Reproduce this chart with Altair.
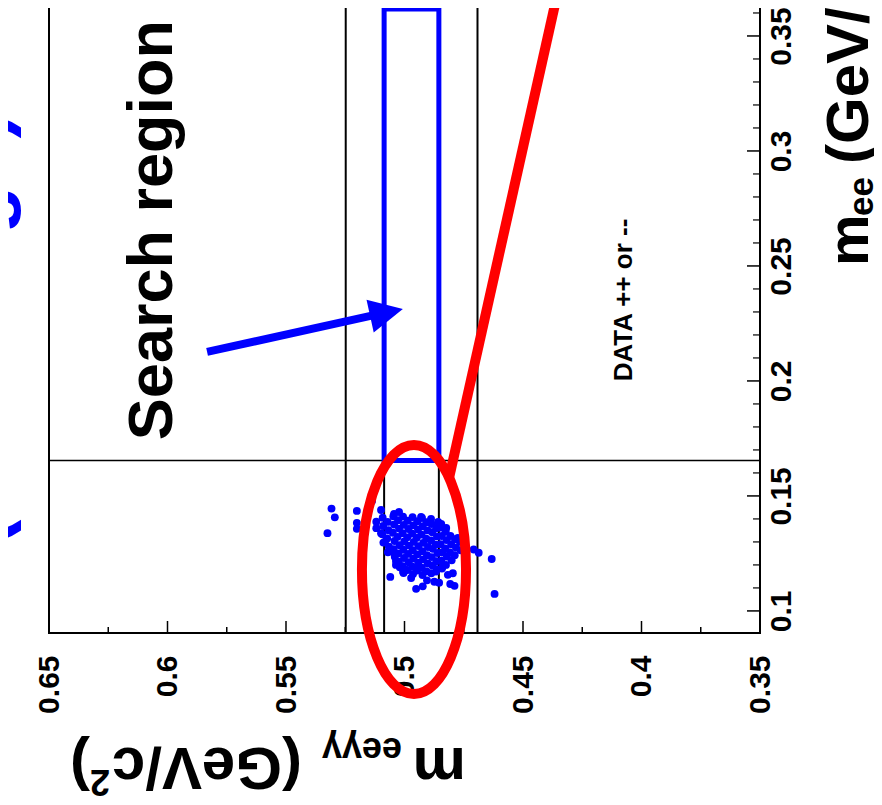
import altair as alt
import pandas as pd

# ---------------- data ----------------
# events: (m_eeyy, m_ee) in GeV/c^2
core_events = [
    (0.5092,0.1405),(0.5090,0.1369),(0.5094,0.1333),(0.5089,0.1297),
    (0.5071,0.1387),(0.5068,0.1351),(0.5073,0.1315),(0.5066,0.1279),(0.5070,0.1255),
    (0.5047,0.1412),(0.5044,0.1376),(0.5049,0.1340),(0.5042,0.1304),(0.5046,0.1268),(0.5041,0.1236),
    (0.5027,0.1394),(0.5023,0.1358),(0.5029,0.1322),(0.5021,0.1286),(0.5026,0.1250),(0.5024,0.1214),(0.5020,0.1190),
    (0.5006,0.1410),(0.5003,0.1374),(0.5008,0.1338),(0.5001,0.1302),(0.5005,0.1266),(0.5002,0.1230),(0.5007,0.1194),(0.5004,0.1165),
    (0.4986,0.1392),(0.4983,0.1356),(0.4988,0.1320),(0.4981,0.1284),(0.4985,0.1248),(0.4982,0.1212),(0.4987,0.1178),
    (0.4966,0.1408),(0.4963,0.1372),(0.4968,0.1336),(0.4961,0.1300),(0.4965,0.1264),(0.4962,0.1228),(0.4967,0.1192),(0.4964,0.1160),
    (0.4946,0.1390),(0.4943,0.1354),(0.4948,0.1318),(0.4941,0.1282),(0.4945,0.1246),(0.4942,0.1210),(0.4947,0.1176),
    (0.4926,0.1404),(0.4923,0.1368),(0.4928,0.1332),(0.4921,0.1296),(0.4925,0.1260),(0.4922,0.1224),(0.4927,0.1188),(0.4924,0.1156),
    (0.4906,0.1386),(0.4903,0.1350),(0.4908,0.1314),(0.4901,0.1278),(0.4905,0.1242),(0.4902,0.1206),(0.4907,0.1172),
    (0.4886,0.1378),(0.4883,0.1342),(0.4888,0.1306),(0.4881,0.1270),(0.4885,0.1234),(0.4882,0.1198),(0.4887,0.1164),
    (0.4866,0.1360),(0.4863,0.1324),(0.4868,0.1288),(0.4861,0.1252),(0.4865,0.1216),(0.4862,0.1182),
    (0.4846,0.1362),(0.4843,0.1326),(0.4848,0.1290),(0.4841,0.1254),(0.4845,0.1218),(0.4842,0.1184),
    (0.4826,0.1344),(0.4823,0.1308),(0.4828,0.1272),(0.4821,0.1236),(0.4825,0.1200),
    (0.4806,0.1326),(0.4803,0.1290),(0.4808,0.1254),(0.4801,0.1220),
    (0.4786,0.1312),(0.4783,0.1276),(0.4788,0.1242),
    (0.4766,0.1300),(0.4763,0.1264),
]
outlier_events = [
    (0.5308,0.1445),(0.5294,0.1407),(0.5325,0.1338),(0.5137,0.1478),(0.5201,0.1435),
    (0.5201,0.1383),(0.5201,0.1357),(0.5099,0.1439),(0.5119,0.1388),(0.5119,0.1360),
    (0.5099,0.1338),(0.5082,0.1301),(0.5053,0.1258),(0.5036,0.1217),(0.5060,0.1148),
    (0.4996,0.1178),(0.4951,0.1096),(0.4923,0.1107),(0.4905,0.1133),(0.4874,0.1127),
    (0.4854,0.1123),(0.4807,0.1117),(0.4789,0.1109),(0.4817,0.1157),(0.4796,0.1164),
    (0.4867,0.1171),(0.4838,0.1193),(0.4948,0.1187),(0.4708,0.1267),(0.4687,0.1253),
    (0.4632,0.1226),(0.4620,0.1074),(0.4824,0.1361),(0.4775,0.1317),(0.4845,0.1378),
    (0.5044,0.1422),(0.5023,0.1430),(0.4930,0.1409),(0.4888,0.1400),(0.4858,0.1387),
    (0.5036,0.1200),(0.5006,0.1170),(0.4972,0.1143),
]

x_domain = [0.35, 0.65]
y_domain = [0.0904, 0.3639]
x_tick_labels = [0.65, 0.6, 0.55, 0.5, 0.45, 0.4, 0.35]
y_tick_labels = [0.1, 0.15, 0.2, 0.25, 0.3, 0.35]
x_major = [0.6, 0.55, 0.5, 0.45, 0.4]
x_minor = [0.625, 0.575, 0.525, 0.475, 0.425, 0.375]
y_major = [0.1, 0.15, 0.2, 0.25, 0.3, 0.35]
y_minor = [0.11, 0.12, 0.13, 0.14, 0.16, 0.17, 0.18, 0.19, 0.21, 0.22, 0.23, 0.24,
           0.26, 0.27, 0.28, 0.29, 0.31, 0.32, 0.33, 0.34, 0.36]

cut_meeyy = [0.5248, 0.5086, 0.4855, 0.4692]
cut_mee = [0.1654]
search_box = {"x": 0.5086, "x2": 0.4855, "y": 0.1654, "y2": 0.3617}
ellipse_center = {"x": 0.4960, "y": 0.1180}
red_pointer = {"x": 0.4812, "y": 0.1578, "x2": 0.4342, "y2": 0.3743}
arrow_shaft = {"x": 0.5833, "y": 0.2126, "x2": 0.5124, "y2": 0.2287}
arrow_head = {"x": 0.5076, "y": 0.2297}
search_label = {"x": 0.5981, "y": 0.2656, "t": "Search region"}
data_label = {"x": 0.4040, "y": 0.2352, "t": "DATA ++ or --"}

# ---------------- chart ----------------
W, H = 711, 629
FONT = "Liberation Sans"
BLUE = "#0000ff"
RED = "#ff0000"

xs = alt.Scale(domain=x_domain, reverse=True, nice=False, zero=False)
ys = alt.Scale(domain=y_domain, nice=False, zero=False)

events = pd.DataFrame(core_events + outlier_events, columns=["meeyy", "mee"])

x_axis = alt.Axis(values=x_tick_labels, format=".2~f", labelAngle=270, labelAlign="right",
                  labelBaseline="middle", labelPadding=22, labelFont=FONT,
                  labelFontWeight="bold", labelFontSize=30, labelColor="black",
                  ticks=False, domain=False, grid=False, title=None,
                  labelOverlap=False, labelFlush=False)
y_axis = alt.Axis(orient="right", values=y_tick_labels, format=".2~f", labelAngle=270,
                  labelAlign="center", labelBaseline="top", labelPadding=6,
                  labelFont=FONT, labelFontWeight="bold", labelFontSize=30,
                  labelColor="black", ticks=False, domain=False, grid=False,
                  title=None, labelOverlap=False, labelFlush=False)


def X(f):
    return alt.X(f, type="quantitative", scale=xs, axis=x_axis)


def Y(f):
    return alt.Y(f, type="quantitative", scale=ys, axis=y_axis)


def one(d):
    return pd.DataFrame([d])


layers = []

# cut lines
layers.append(alt.Chart(pd.DataFrame({"v": cut_meeyy})).mark_rule(color="black", strokeWidth=2).encode(
    x=X("v"), y=alt.value(0), y2=alt.value(H)))
layers.append(alt.Chart(pd.DataFrame({"v": cut_mee})).mark_rule(color="black", strokeWidth=1.5).encode(
    y=Y("v"), x=alt.value(0), x2=alt.value(W)))

# points
layers.append(alt.Chart(events).mark_circle(size=62, color=BLUE, opacity=1).encode(
    x=X("meeyy"), y=Y("mee")))

# inward ticks
layers.append(alt.Chart(pd.DataFrame({"v": x_major})).mark_rule(color="black", strokeWidth=1.5).encode(
    x=X("v"), y=alt.value(H), y2=alt.value(H - 12)))
layers.append(alt.Chart(pd.DataFrame({"v": x_minor})).mark_rule(color="black", strokeWidth=1.5).encode(
    x=X("v"), y=alt.value(H), y2=alt.value(H - 6)))
layers.append(alt.Chart(pd.DataFrame({"v": y_major})).mark_rule(color="black", strokeWidth=1.5).encode(
    y=Y("v"), x=alt.value(W), x2=alt.value(W - 13)))
layers.append(alt.Chart(pd.DataFrame({"v": y_minor})).mark_rule(color="black", strokeWidth=1.2).encode(
    y=Y("v"), x=alt.value(W), x2=alt.value(W - 7)))

# search box
layers.append(alt.Chart(one(search_box)).mark_rect(fill=None, fillOpacity=0, stroke=BLUE, strokeWidth=5).encode(
    x=X("x"), x2="x2", y=Y("y"), y2="y2"))

# red ellipse + pointer
ELLIPSE = "M -0.418 0 A 0.418 1 0 1 0 0.418 0 A 0.418 1 0 1 0 -0.418 0 Z"
layers.append(alt.Chart(one(ellipse_center)).mark_point(
    shape=ELLIPSE, size=62001, filled=False, stroke=RED, strokeWidth=10, opacity=1).encode(
    x=X("x"), y=Y("y")))
layers.append(alt.Chart(one(red_pointer)).mark_rule(color=RED, strokeWidth=10).encode(
    x=X("x"), y=Y("y"), x2="x2", y2="y2"))

# blue arrow
layers.append(alt.Chart(one(arrow_shaft)).mark_rule(color=BLUE, strokeWidth=8).encode(
    x=X("x"), y=Y("y"), x2="x2", y2="y2"))
layers.append(alt.Chart(one(arrow_head)).mark_point(
    shape="M 0 -1 L -1 1 L 1 1 Z", size=1122, filled=True, fill=BLUE, strokeWidth=0,
    opacity=1, angle=77.6).encode(x=X("x"), y=Y("y")))

# in-plot labels
for lab, fs in ((search_label, 63), (data_label, 26)):
    layers.append(alt.Chart(one(lab)).mark_text(
        angle=270, align="center", baseline="alphabetic", font=FONT,
        fontWeight="bold", fontSize=fs, color="black").encode(
        x=X("x"), y=Y("y"), text="t:N"))


def txt(s, px, py, size, angle, color="black"):
    return alt.Chart(pd.DataFrame({"a": [0]})).mark_text(
        text=s, angle=angle, align="left", baseline="alphabetic", font=FONT,
        fontWeight="bold", fontSize=size, color=color).encode(
        x=alt.value(px), y=alt.value(py))


# bottom axis title (upside down): m_eeyy (GeV/c^2)
layers += [
    txt("m", 417, 744, 60, 180),
    txt("eeγγ", 353, 734, 36, 180),
    txt("(GeV/c", 253, 744, 60, 180),
    txt("2", 61, 766, 36, 180),
    txt(")", 41, 744, 60, 180),
]
# right axis title: m_ee (GeV/c^2)
layers += [
    txt("m", 819, 262, 58, 270),
    txt("ee", 824, 212, 35, 270),
    txt("(GeV/c", 819, 160, 60, 270),
    txt("2", 809, -28, 36, 270),
    txt(")", 819, -50, 60, 270),
]
# title fragment at the left edge (mostly outside the picture)
layers.append(alt.Chart(pd.DataFrame({"a": [0]})).mark_text(
    text="(same sign)", angle=270, align="center", baseline="alphabetic", font=FONT,
    fontWeight="bold", fontSize=78, color=BLUE).encode(x=alt.value(-44), y=alt.value(325)))

chart = alt.layer(*layers).properties(
    width=W, height=H,
    autosize=alt.AutoSizeParams(type="none"),
    padding={"left": 41, "top": -4, "right": 114, "bottom": 164},
    background="white",
).configure_view(stroke="black", strokeWidth=2)

chart.save("out.html", embed_options={"renderer": "svg", "actions": False})
